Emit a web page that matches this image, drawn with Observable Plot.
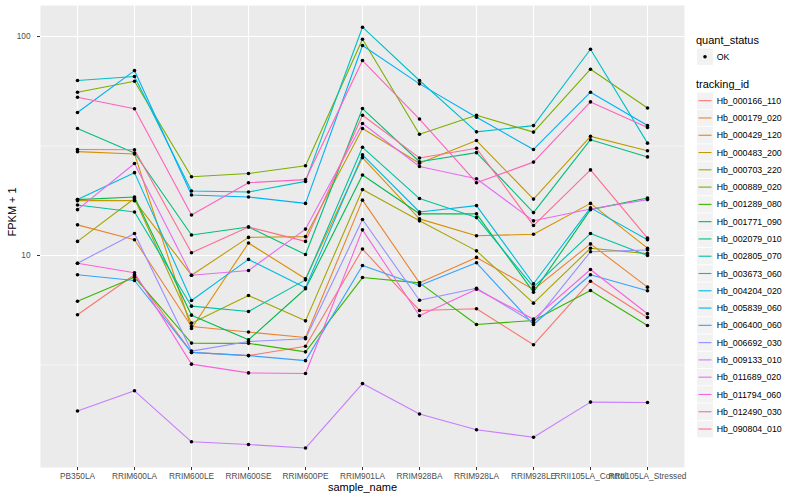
<!DOCTYPE html>
<html>
<head>
<meta charset="utf-8">
<script src="https://cdn.jsdelivr.net/npm/d3@7"></script>
<script src="https://cdn.jsdelivr.net/npm/@observablehq/plot@0.6"></script>
<style>
  body { margin: 0; background: #ffffff; }
  #wrap { position: relative; width: 800px; height: 500px; font-family: "Liberation Sans", Arial, sans-serif; }
  #wrap svg.legend { position: absolute; left: 0; top: 0; pointer-events: none; }
</style>
</head>
<body>
<div id="wrap"></div>
<script>
const samples = ["PB350LA", "RRIM600LA", "RRIM600LE", "RRIM600SE", "RRIM600PE", "RRIM901LA",
  "RRIM928BA", "RRIM928LA", "RRIM928LE", "RRII105LA_Control", "RRII105LA_Stressed"];

const trackingIds = ["Hb_000166_110", "Hb_000179_020", "Hb_000429_120", "Hb_000483_200", "Hb_000703_220",
  "Hb_000889_020", "Hb_001289_080", "Hb_001771_090", "Hb_002079_010", "Hb_002805_070",
  "Hb_003673_060", "Hb_004204_020", "Hb_005839_060", "Hb_006400_060", "Hb_006692_030",
  "Hb_009133_010", "Hb_011689_020", "Hb_011794_060", "Hb_012490_030", "Hb_090804_010"];

const quantStatus = ["OK"];
const yTicks = [10, 100];

// FPKM + 1 per sample (same order as samples)
const s000166_110 = [5.36, 8.17, 3.61, 3.49, 3.85, 10.7, 5.61, 5.71, 3.91, 7.63, 5.21];
const s000179_020 = [13.8, 11.8, 4.74, 4.47, 4.22, 17.9, 7.50, 9.80, 6.99, 11.3, 7.17];
const s000429_120 = [29.8, 29.1, 4.64, 11.4, 7.83, 28.0, 14.7, 12.3, 12.5, 17.3, 10.8];
const s000483_200 = [17.8, 17.8, 8.13, 12.1, 12.2, 38.0, 26.4, 33.5, 18.1, 35.0, 30.1];
const s000703_220 = [11.6, 18.2, 4.91, 6.57, 5.03, 20.0, 14.4, 10.5, 6.06, 10.8, 10.2];
const s000889_020 = [55.7, 62.5, 22.9, 23.7, 25.7, 97.2, 35.8, 43.7, 36.6, 70.9, 47.2];
const s001289_080 = [6.18, 7.96, 3.98, 3.97, 3.63, 7.93, 7.50, 4.84, 5.05, 6.92, 4.79];
const s001771_090 = [18.0, 18.5, 5.34, 4.12, 7.05, 23.3, 15.5, 15.5, 6.80, 16.2, 18.3];
const s002079_010 = [38.0, 29.4, 12.4, 13.5, 10.1, 46.9, 26.8, 29.5, 15.7, 33.8, 28.2];
const s002805_070 = [17.0, 15.8, 5.87, 5.55, 7.74, 31.2, 18.2, 14.9, 7.17, 12.6, 10.0];
const s003673_060 = [63.0, 65.7, 19.7, 19.5, 21.8, 110.3, 63.0, 36.7, 39.2, 87.5, 32.6];
const s004204_020 = [18.0, 23.9, 6.23, 9.60, 7.12, 28.8, 15.8, 16.9, 7.43, 16.5, 11.8];
const s005839_060 = [45.0, 69.9, 18.9, 18.5, 17.3, 91.0, 60.8, 42.8, 30.5, 55.7, 39.2];
const s006400_060 = [8.17, 7.69, 3.61, 3.49, 3.31, 9.00, 7.29, 9.26, 4.84, 8.17, 6.90];
const s006692_030 = [9.22, 12.6, 3.66, 4.05, 4.17, 14.6, 6.25, 7.09, 4.94, 10.4, 10.6];
const s009133_010 = [1.95, 2.41, 1.41, 1.37, 1.32, 2.60, 1.89, 1.60, 1.48, 2.14, 2.13];
const s011689_020 = [16.2, 26.3, 8.13, 8.54, 13.2, 40.1, 25.5, 22.4, 14.4, 16.3, 18.0];
const s011794_060 = [9.22, 8.34, 3.19, 2.91, 2.89, 13.1, 5.31, 7.02, 5.12, 8.63, 5.42];
const s012490_030 = [52.8, 46.8, 15.3, 21.5, 22.2, 77.7, 42.0, 21.5, 26.7, 50.3, 38.4];
const s090804_010 = [30.5, 30.4, 10.3, 13.5, 11.6, 43.7, 27.9, 30.9, 13.7, 24.6, 12.0];

const seriesValues = [s000166_110, s000179_020, s000429_120, s000483_200, s000703_220,
  s000889_020, s001289_080, s001771_090, s002079_010, s002805_070,
  s003673_060, s004204_020, s005839_060, s006400_060, s006692_030,
  s009133_010, s011689_020, s011794_060, s012490_030, s090804_010];

// long table built from the arrays
const rows = [];
seriesValues.forEach((vals, i) => vals.forEach((v, j) =>
  rows.push({tracking_id: trackingIds[i], sample_name: samples[j], fpkm: v, quant_status: quantStatus[0]})));

const hue = ["#F8766D", "#EA8331", "#D89000", "#C09B00", "#A3A500", "#7CAE00", "#39B600", "#00BB4E",
  "#00BF7D", "#00C1A3", "#00BFC4", "#00BAE0", "#00B0F6", "#35A2FF", "#9590FF", "#C77CFF",
  "#E76BF3", "#FA62DB", "#FF62BC", "#FF6C91"];

const W = 800, H = 500, mL = 40, mR = 116, mT = 5, mB = 33;

const plot = Plot.plot({
  width: W, height: H,
  marginLeft: mL, marginRight: mR, marginTop: mT, marginBottom: mB,
  style: {fontFamily: "Liberation Sans, Arial, sans-serif", background: "#ffffff", color: "#000"},
  x: {type: "point", domain: samples, padding: 0.6, label: null},
  y: {type: "log", domain: [1.076, 138.6], label: null},
  color: {domain: trackingIds, range: hue},
  marks: [
    Plot.frame({fill: "#EBEBEB", stroke: null}),
    Plot.ruleY([Math.sqrt(10), Math.pow(10, 1.5)], {stroke: "#ffffff", strokeWidth: 0.55}),
    Plot.ruleY(yTicks, {stroke: "#ffffff", strokeWidth: 1.1}),
    Plot.ruleX(samples, {stroke: "#ffffff", strokeWidth: 1.1}),
    Plot.line(rows, {x: "sample_name", y: "fpkm", z: "tracking_id", stroke: "tracking_id", strokeWidth: 1.1}),
    Plot.dot(rows, {x: "sample_name", y: "fpkm", fill: "#000000", stroke: null, r: 1.8}),
    Plot.axisX({tickSize: 3, tickPadding: 2.5, fontSize: 8.3, stroke: "#333333", fill: "#4D4D4D", label: null}),
    Plot.axisY({ticks: yTicks, tickFormat: d => String(d), tickSize: 3, tickPadding: 7, fontSize: 8.3,
      stroke: "#333333", fill: "#4D4D4D", label: null}),
    Plot.text(["sample_name"], {text: d => d, frameAnchor: "bottom", dy: 23, fontSize: 11, fill: "#000"}),
    Plot.text(["FPKM + 1"], {text: d => d, frameAnchor: "left", dx: -28, rotate: -90, fontSize: 11, fill: "#000"})
  ]
});

const wrap = document.getElementById("wrap");
wrap.appendChild(plot);

// legend (drawn from the same colour scale)
const colorScale = plot.scale("color");
const lg = d3.select(wrap).append("svg").attr("class", "legend")
  .attr("width", W).attr("height", H)
  .style("font-family", "Liberation Sans, Arial, sans-serif");

const lx = 697, keyW = 16, keyStep = 17.28;
lg.append("text").attr("x", 696).attr("y", 44).attr("font-size", 11).attr("fill", "#000").text("quant_status");
quantStatus.forEach((q, i) => {
  const cy = 56.7 + i * keyStep;
  lg.append("rect").attr("x", lx).attr("y", cy - 8.2).attr("width", keyW).attr("height", 16.4).attr("fill", "#F2F2F2");
  lg.append("circle").attr("cx", lx + keyW / 2).attr("cy", cy).attr("r", 1.8).attr("fill", "#000");
  lg.append("text").attr("x", 716.7).attr("y", cy).attr("dy", "0.35em").attr("font-size", 8.8).attr("fill", "#000").text(q);
});

lg.append("text").attr("x", 696).attr("y", 87.5).attr("font-size", 11).attr("fill", "#000").text("tracking_id");
trackingIds.forEach((id, i) => {
  const cy = 100.7 + i * keyStep;
  lg.append("rect").attr("x", lx).attr("y", cy - 8.2).attr("width", keyW).attr("height", 16.4).attr("fill", "#F2F2F2");
  lg.append("line").attr("x1", lx + 1.5).attr("x2", lx + keyW - 1.5).attr("y1", cy).attr("y2", cy)
    .attr("stroke", colorScale.apply(id)).attr("stroke-width", 1.1);
  lg.append("text").attr("x", 716.7).attr("y", cy).attr("dy", "0.35em").attr("font-size", 8.8).attr("fill", "#000").text(id);
});
</script>
</body>
</html>
